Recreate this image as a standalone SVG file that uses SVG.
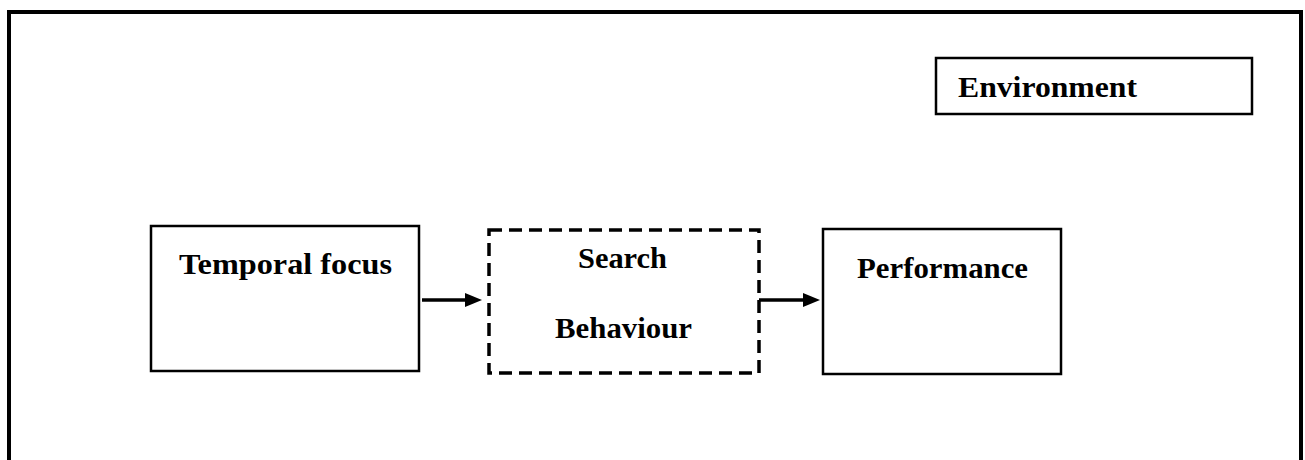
<svg xmlns="http://www.w3.org/2000/svg" width="1305" height="460" viewBox="0 0 1305 460">
<style>
.lbl{font-family:"Liberation Serif","Times New Roman",serif;font-weight:bold;font-size:30px;fill:#000}
.box{fill:#fff;stroke:#000;stroke-width:2.5}
.dash{fill:#fff;stroke:#000;stroke-width:3.5;stroke-dasharray:13 7}
.con{stroke:#000;stroke-width:3.5;fill:none}
.head{fill:#000;stroke:none}
</style>
<rect width="1305" height="460" fill="#fff"/>
<path d="M9,460 V12 H1301 V460" fill="none" stroke="#000" stroke-width="4"/>
<g id="environment">
<rect class="box" x="936" y="58" width="316" height="56" stroke-width="2"/>
<text class="lbl" x="958" y="97" textLength="179" lengthAdjust="spacingAndGlyphs">Environment</text>
</g>
<g id="temporal-focus">
<rect class="box" x="151" y="226" width="268" height="145"/>
<text class="lbl" x="179" y="274" textLength="213" lengthAdjust="spacingAndGlyphs">Temporal focus</text>
</g>
<g id="search-behaviour">
<rect class="dash" x="489" y="230" width="270" height="143"/>
<text class="lbl" x="578" y="268" textLength="89" lengthAdjust="spacingAndGlyphs">Search</text>
<text class="lbl" x="555" y="338" textLength="137" lengthAdjust="spacingAndGlyphs">Behaviour</text>
</g>
<g id="performance">
<rect class="box" x="823" y="229" width="238" height="145"/>
<text class="lbl" x="857" y="278" textLength="171" lengthAdjust="spacingAndGlyphs">Performance</text>
</g>
<g id="connectors">
<line class="con" x1="422" y1="300" x2="467" y2="300"/>
<polygon class="head" points="465,293 482,300 465,307"/>
<line class="con" x1="759" y1="300" x2="805" y2="300"/>
<polygon class="head" points="803,293 820,300 803,307"/>
</g>
</svg>
